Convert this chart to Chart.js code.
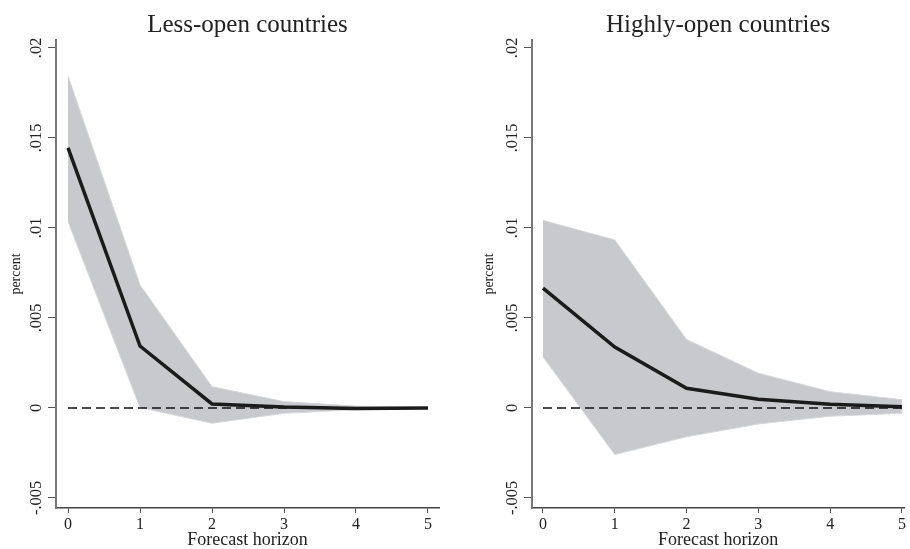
<!DOCTYPE html>
<html>
<head>
<meta charset="utf-8">
<script src="https://cdn.jsdelivr.net/npm/chart.js@4.4.1/dist/chart.umd.min.js"></script>
<style>
  html, body { margin: 0; padding: 0; background: #fff; }
  .wrap { display: flex; width: 910px; height: 549px; }
  .box { position: relative; width: 455px; height: 549px; }
</style>
</head>
<body>
<div class="wrap">
  <div class="box"><canvas id="less"></canvas></div>
  <div class="box"><canvas id="high"></canvas></div>
</div>
<script>
// forecast horizons
const horizons = [0, 1, 2, 3, 4, 5];

// less-open countries
const lessMean  = [0.01445, 0.00344, 0.00022, 0.00005, -0.00003, 0.0];
const lessUpper = [0.01844, 0.00683, 0.00118, 0.00035, 0.00010, 0.00002];
const lessLower = [0.01035, 0.00002, -0.00085, -0.00030, -0.00010, -0.00003];

// highly-open countries
const highMean  = [0.00665, 0.00338, 0.00109, 0.00048, 0.00020, 0.00007];
const highUpper = [0.01042, 0.00933, 0.00380, 0.00193, 0.00090, 0.00046];
const highLower = [0.00284, -0.00259, -0.00160, -0.00089, -0.00046, -0.00030];

const zeroLine = [0, 0, 0, 0, 0, 0];

// axis ticks
const yTicks = [-0.005, 0, 0.005, 0.01, 0.015, 0.02];
const yTickLabels = ['-.005', '0', '.005', '.01', '.015', '.02'];
const xTicks = [0, 1, 2, 3, 4, 5];

const serif = '"Liberation Serif", "Times New Roman", serif';
const band = 'rgb(200,201,204)';

const pts = arr => horizons.map((h, i) => ({x: h, y: arr[i]}));

// rotated y tick labels, read bottom to top
const rotatedYLabels = {
  id: 'rotatedYLabels',
  afterDraw(chart) {
    const s = chart.scales.y;
    const ctx = chart.ctx;
    ctx.save();
    ctx.fillStyle = '#222';
    ctx.font = '16.5px ' + serif;
    ctx.textAlign = 'center';
    ctx.textBaseline = 'middle';
    yTicks.forEach((v, i) => {
      const py = s.getPixelForValue(v);
      ctx.save();
      ctx.translate(s.right - 19, py);
      ctx.rotate(-Math.PI / 2);
      ctx.fillText(yTickLabels[i], 0, 0);
      ctx.restore();
    });
    ctx.restore();
  }
};

function makeChart(id, title, mean, upper, lower, opts) {
  return new Chart(document.getElementById(id), {
    type: 'line',
    data: {
      datasets: [
        {data: pts(mean), borderColor: '#1b1b1b', borderWidth: 3.5, pointRadius: 0, fill: false, tension: 0},
        {data: pts(zeroLine), borderColor: '#111', borderWidth: 1.5, borderDash: [9, 5], pointRadius: 0, fill: false},
        {data: pts(lower), borderColor: 'rgb(214,215,217)', borderWidth: 1, pointRadius: 0, fill: false},
        {data: pts(upper), borderColor: 'rgb(214,215,217)', borderWidth: 1, pointRadius: 0, fill: '-1', backgroundColor: band}
      ]
    },
    options: {
      responsive: false,
      animation: false,
      events: [],
      layout: {padding: {left: 0, right: opts.padRight, top: 0, bottom: 0}},
      plugins: {
        legend: {display: false},
        tooltip: {enabled: false},
        title: {
          display: true,
          text: title,
          fullSize: false,
          color: '#222',
          font: {family: serif, size: 25, weight: 'normal', lineHeight: 1.2},
          padding: {top: 10, bottom: 0}
        }
      },
      scales: {
        x: {
          type: 'linear',
          min: opts.xMin,
          max: opts.xMax,
          afterBuildTicks: s => { s.ticks = xTicks.map(v => ({value: v})); },
          afterFit: s => { s.height = 41; },
          border: {display: true, color: '#444', width: 1.5},
          grid: {drawOnChartArea: false, drawTicks: true, tickLength: 5, color: '#555', lineWidth: 1},
          ticks: {color: '#222', font: {family: serif, size: 16, lineHeight: 1}, padding: 4, maxRotation: 0},
          title: {display: true, text: 'Forecast horizon', color: '#222', font: {family: serif, size: 18, lineHeight: 1}, padding: {top: 0, bottom: 0}}
        },
        y: {
          type: 'linear',
          min: -0.00556,
          max: 0.02044,
          afterBuildTicks: s => { s.ticks = yTicks.map(v => ({value: v})); },
          afterFit: s => { s.width = opts.yWidth; },
          border: {display: true, color: '#777', width: 2},
          grid: {drawOnChartArea: false, drawTicks: true, tickLength: 8, color: '#555', lineWidth: 1},
          ticks: {display: false},
          title: {display: true, text: 'percent', color: '#222', font: {family: serif, size: 14, lineHeight: 1.2}, padding: {top: opts.titlePad, bottom: 0}}
        }
      }
    },
    plugins: [rotatedYLabels]
  });
}

document.getElementById('less').width = 455;
document.getElementById('less').height = 549;
document.getElementById('high').width = 455;
document.getElementById('high').height = 549;

makeChart('less', 'Less-open countries', lessMean, lessUpper, lessLower,
  {padRight: 16, yWidth: 56, xMin: -0.167, xMax: 5.153, titlePad: 8});
makeChart('high', 'Highly-open countries', highMean, highUpper, highLower,
  {padRight: 5, yWidth: 77, xMin: -0.153, xMax: 5.032, titlePad: 26});
</script>
</body>
</html>
